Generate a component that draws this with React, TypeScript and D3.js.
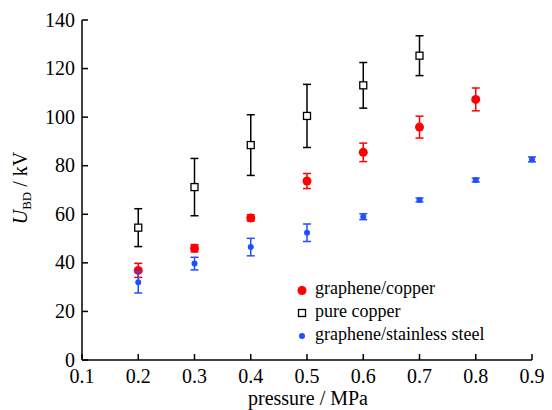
import React from "react";
import * as d3 from "d3";

const pressures = [0.2, 0.3, 0.4, 0.5, 0.6, 0.7, 0.8, 0.9];

const grapheneCopper = [36.9, 46.0, 58.5, 73.7, 85.5, 95.9, 107.3];
const grapheneCopperErr = [2.9, 1.5, 1.3, 3.1, 3.8, 4.5, 4.7];

const pureCopper = [54.5, 71.2, 88.5, 100.5, 113.1, 125.3];
const pureCopperErr = [7.8, 11.8, 12.5, 13.0, 9.4, 8.2];

const grapheneSteel = [32.0, 39.7, 46.5, 52.4, 59.0, 65.9, 74.1, 82.6];
const grapheneSteelErr = [4.4, 2.6, 3.6, 3.6, 1.2, 0.8, 0.8, 1.0];

const xTicks = [0.1, 0.2, 0.3, 0.4, 0.5, 0.6, 0.7, 0.8, 0.9];
const yTicks = [0, 20, 40, 60, 80, 100, 120, 140];

const legendLabels = ["graphene/copper", "pure copper", "graphene/stainless steel"];

const RED = "#ff0000";
const BLUE = "#1f4fff";
const FONT = '"Liberation Serif", Tinos, "Times New Roman", Times, serif';

export default function App() {
  const W = 552, H = 410;
  const x = d3.scaleLinear().domain([0.1, 0.9]).range([82, 532]);
  const y = d3.scaleLinear().domain([0, 140]).range([360, 20]);
  const ts = { fontFamily: FONT };

  const errBar = (px: number, v: number, e: number, color: string, cap: number, key: string) => (
    <g key={key} stroke={color} strokeWidth={1.5}>
      <line x1={x(px)} x2={x(px)} y1={y(v - e)} y2={y(v + e)} />
      <line x1={x(px) - cap} x2={x(px) + cap} y1={y(v + e)} y2={y(v + e)} />
      <line x1={x(px) - cap} x2={x(px) + cap} y1={y(v - e)} y2={y(v - e)} />
    </g>
  );

  return (
    <svg width={W} height={H} style={{ position: "absolute", left: 0, top: 0, fontFamily: FONT }}>
      <rect width={W} height={H} fill="#fff" />
      {/* axes */}
      <line x1={x(0.1)} x2={x(0.9)} y1={y(0)} y2={y(0)} stroke="#000" strokeWidth={1.5} />
      <line x1={x(0.1)} x2={x(0.1)} y1={y(0)} y2={y(140)} stroke="#000" strokeWidth={1.5} />
      {xTicks.map((t) => (
        <g key={"xt" + t}>
          <line x1={x(t)} x2={x(t)} y1={y(0)} y2={y(0) - 6} stroke="#000" strokeWidth={1.5} />
          <text style={ts} x={x(t)} y={383} textAnchor="middle" fontSize={20} fill="#000">
            {t.toFixed(1)}
          </text>
        </g>
      ))}
      {yTicks.map((t) => (
        <g key={"yt" + t}>
          <line x1={x(0.1)} x2={x(0.1) + 6} y1={y(t)} y2={y(t)} stroke="#000" strokeWidth={1.5} />
          <text style={ts} x={x(0.1) - 7} y={y(t) + 6.5} textAnchor="end" fontSize={20} fill="#000">
            {t}
          </text>
        </g>
      ))}
      <text style={ts} x={308} y={405} textAnchor="middle" fontSize={20} fill="#000">pressure / MPa</text>
      <text style={ts} transform="translate(27,188) rotate(-90)" textAnchor="middle" fontSize={20} fill="#000">
        <tspan fontStyle="italic">U</tspan>
        <tspan fontSize={13} dy={4}>BD</tspan>
        <tspan dy={-4}> / kV</tspan>
      </text>

      {/* pure copper */}
      {pureCopper.map((v, i) => errBar(pressures[i], v, pureCopperErr[i], "#000", 4, "pce" + i))}
      {pureCopper.map((v, i) => (
        <rect key={"pc" + i} x={x(pressures[i]) - 3.5} y={y(v) - 3.5} width={7} height={7}
          fill="#fff" stroke="#000" strokeWidth={1.3} />
      ))}

      {/* graphene/copper */}
      {grapheneCopper.map((v, i) => errBar(pressures[i], v, grapheneCopperErr[i], RED, 4, "gce" + i))}
      {grapheneCopper.map((v, i) => (
        <circle key={"gc" + i} cx={x(pressures[i])} cy={y(v)} r={4.5} fill={RED} />
      ))}

      {/* graphene/stainless steel */}
      {grapheneSteel.map((v, i) => errBar(pressures[i], v, grapheneSteelErr[i], BLUE, 4, "gse" + i))}
      {grapheneSteel.map((v, i) => (
        <circle key={"gs" + i} cx={x(pressures[i])} cy={y(v)} r={3} fill={BLUE} />
      ))}

      {/* legend */}
      <circle cx={302} cy={290.5} r={4.5} fill={RED} />
      <rect x={298.5} y={309.5} width={7} height={7} fill="#fff" stroke="#000" strokeWidth={1.3} />
      <circle cx={302} cy={336} r={3} fill={BLUE} />
      {legendLabels.map((l, i) => (
        <text style={ts} key={l} x={315} y={294 + i * 23} fontSize={18} fill="#000">{l}</text>
      ))}
    </svg>
  );
}
